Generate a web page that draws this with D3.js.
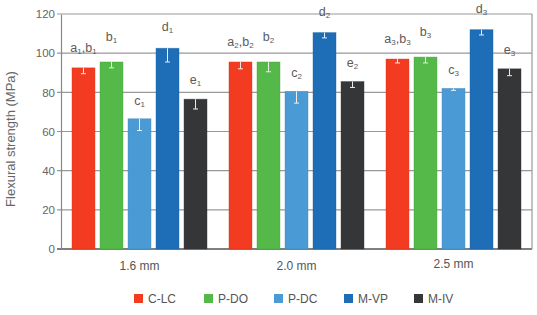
<!DOCTYPE html>
<html>
<head>
<meta charset="utf-8">
<script src="https://cdn.jsdelivr.net/npm/d3@7"></script>
<style>
  body { margin: 0; background: #fff; }
  svg { display: block; font-family: "Liberation Sans", Arial, sans-serif; }
</style>
</head>
<body>
<div id="chart-area"></div>
<script>
// Data
const groups = ['1.6 mm', '2.0 mm', '2.5 mm'];
const series = ['C-LC', 'P-DO', 'P-DC', 'M-VP', 'M-IV'];
const values = [
    [92.5, 95.5, 66.5, 102.5, 76.5],
    [95.5, 95.5, 80.5, 110.5, 85.5],
    [97, 98, 82, 112, 92]
];
const errors = [
    [3, 3, 6, 7, 5],
    [3.5, 5, 6, 2.7, 3],
    [2, 3, 1, 2.7, 3.5]
];
// significance letters (subscript = group number)
const letters = [
    ['a,b', 'b', 'c', 'd', 'e'],
    ['a,b', 'b', 'c', 'd', 'e'],
    ['a,b', 'b', 'c', 'd', 'e']
];
const yTicks = [0, 20, 40, 60, 80, 100, 120];

const colors = ['#f23b20', '#54b949', '#4a9bd5', '#1e6db7', '#353638'];
const labelOffset = [16, 21, 14, 17, 15];

const WIDTH = 537, HEIGHT = 315;
const PLOT = {LEFT: 61, RIGHT: 532, TOP: 14, BOTTOM: 249};

const svg = d3.select('#chart-area').append('svg')
    .attr('width', WIDTH)
    .attr('height', HEIGHT);

const x0 = d3.scaleBand()
    .domain(groups)
    .range([PLOT.LEFT, PLOT.RIGHT])
    .padding(0);

const x1 = d3.scaleBand()
    .domain(series)
    .range([11, x0.bandwidth() - 11])
    .paddingInner(0.18)
    .paddingOuter(0);

const y = d3.scaleLinear()
    .domain([0, 120])
    .range([PLOT.BOTTOM, PLOT.TOP]);

// gridlines
svg.append('g')
    .selectAll('line')
    .data(yTicks)
    .enter()
    .append('line')
    .attr('x1', PLOT.LEFT - 4)
    .attr('x2', PLOT.RIGHT)
    .attr('y1', d => y(d))
    .attr('y2', d => y(d))
    .attr('stroke', d => d === 0 ? '#555' : '#999')
    .attr('stroke-width', d => d === 0 ? 1.5 : 1.2);

// y axis labels
const yAxis = d3.axisLeft(y).tickValues(yTicks).tickSize(0).tickPadding(6);
const gy = svg.append('g')
    .attr('transform', `translate(${PLOT.LEFT},0)`)
    .call(yAxis);
gy.select('.domain').attr('stroke', '#888').attr('stroke-width', 1.2);
gy.selectAll('text').attr('fill', '#666').attr('font-size', '11.5px').attr('font-family', 'Liberation Sans, Arial, sans-serif');

// right border
svg.append('line')
    .attr('x1', PLOT.RIGHT).attr('x2', PLOT.RIGHT)
    .attr('y1', PLOT.TOP).attr('y2', PLOT.BOTTOM)
    .attr('stroke', '#999').attr('stroke-width', 1.2);

// bars
const flat = [];
groups.forEach((g, gi) => {
    series.forEach((s, si) => {
        flat.push({group: g, series: s, gi: gi, si: si,
            value: values[gi][si], err: errors[gi][si], letter: letters[gi][si]});
    });
});

const barX = d => x0(d.group) + x1(d.series);

svg.append('g')
    .selectAll('rect')
    .data(flat)
    .enter()
    .append('rect')
    .attr('x', barX)
    .attr('y', d => y(d.value))
    .attr('width', x1.bandwidth())
    .attr('height', d => y(0) - y(d.value))
    .attr('fill', d => colors[d.si])
    .attr('stroke', d => d3.color(colors[d.si]).darker(0.4))
    .attr('stroke-opacity', 0.5)
    .attr('stroke-width', 0.8);

// error bars: white, only the part inside the bar shows in the original
const eb = svg.append('g').attr('stroke', '#eeeeee').attr('stroke-width', 1);
eb.selectAll('line.v')
    .data(flat)
    .enter()
    .append('line')
    .attr('class', 'v')
    .attr('x1', d => barX(d) + x1.bandwidth() / 2)
    .attr('x2', d => barX(d) + x1.bandwidth() / 2)
    .attr('y1', d => y(d.value))
    .attr('y2', d => y(d.value - d.err));
eb.selectAll('line.cap')
    .data(flat)
    .enter()
    .append('line')
    .attr('class', 'cap')
    .attr('x1', d => barX(d) + x1.bandwidth() / 2 - 2.5)
    .attr('x2', d => barX(d) + x1.bandwidth() / 2 + 2.5)
    .attr('y1', d => y(d.value - d.err))
    .attr('y2', d => y(d.value - d.err));

// letter labels with subscripts
const lab = svg.append('g')
    .selectAll('text')
    .data(flat)
    .enter()
    .append('text')
    .attr('x', d => barX(d) + x1.bandwidth() / 2)
    .attr('y', d => y(d.value) - labelOffset[d.si])
    .attr('text-anchor', 'middle')
    .attr('fill', '#5a5a5a')
    .attr('font-size', '12.5px');

lab.each(function (d) {
    const t = d3.select(this);
    const parts = d.letter.split(',');
    parts.forEach((p, i) => {
        t.append('tspan')
            .attr('dy', i > 0 ? -2 : null)
            .text((i > 0 ? ',' : '') + p);
        t.append('tspan')
            .attr('font-size', '8px')
            .attr('dy', 2)
            .text(d.gi + 1);
    });
});

// group labels
svg.append('g')
    .selectAll('text')
    .data(groups)
    .enter()
    .append('text')
    .attr('x', d => x0(d) + x0.bandwidth() / 2)
    .attr('y', (d, i) => i === 2 ? 268 : 270)
    .attr('text-anchor', 'middle')
    .attr('fill', '#555')
    .attr('font-size', '12px')
    .text(d => d);

// y axis title
svg.append('text')
    .attr('transform', 'translate(15,139) rotate(-90)')
    .attr('text-anchor', 'middle')
    .attr('fill', '#666')
    .attr('font-size', '13px')
    .text('Flexural strength (MPa)');

// legend
const legend = svg.append('g')
    .selectAll('g')
    .data(series)
    .enter()
    .append('g')
    .attr('transform', (d, i) => `translate(${134 + i * 70},294)`);
legend.append('rect')
    .attr('width', 9).attr('height', 9)
    .attr('fill', (d, i) => colors[i]);
legend.append('text')
    .attr('x', 14).attr('y', 9)
    .attr('fill', '#555')
    .attr('font-size', '12px')
    .text(d => d);
</script>
</body>
</html>
